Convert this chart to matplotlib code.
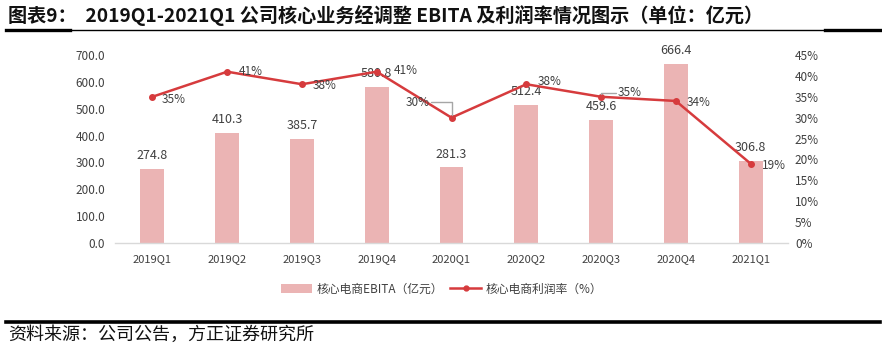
import matplotlib
matplotlib.use("Agg")
import matplotlib.pyplot as plt
from matplotlib.lines import Line2D
from matplotlib.patches import Patch

plt.rcParams['font.family'] = ['Noto Sans CJK SC', 'DejaVu Sans']

quarters = ["2019Q1", "2019Q2", "2019Q3", "2019Q4", "2020Q1", "2020Q2", "2020Q3", "2020Q4", "2021Q1"]
ebita = [274.8, 410.3, 385.7, 580.8, 281.3, 512.4, 459.6, 666.4, 306.8]
margin = [35, 41, 38, 41, 30, 38, 35, 34, 19]
left_ticks = [0, 100, 200, 300, 400, 500, 600, 700]
right_ticks = [0, 5, 10, 15, 20, 25, 30, 35, 40, 45]

W, H = 882, 351
fig = plt.figure(figsize=(W / 100, H / 100), dpi=100)

bar_color = "#EBB4B4"
line_color = "#D63B3D"
text_color = "#404040"

ax = fig.add_axes([115 / W, 1 - 243 / H, (788 - 115) / W, (243 - 55) / H])
x = list(range(len(quarters)))
ax.bar(x, ebita, width=0.32, color=bar_color, zorder=2)
ax.set_xlim(-0.5, len(quarters) - 0.5)
ax.set_ylim(0, 700)
ax.set_yticks(left_ticks)
ax.set_yticklabels([f"{v:.1f}" for v in left_ticks], fontsize=8.5, color=text_color)
ax.set_xticks(x)
ax.set_xticklabels(quarters, fontsize=8, color=text_color)
ax.tick_params(axis="both", length=0)
ax.tick_params(axis="x", pad=8)
ax.tick_params(axis="y", pad=7)
for s in ["top", "right", "left"]:
    ax.spines[s].set_visible(False)
ax.spines["bottom"].set_color("#D9D9D9")
ax.spines["bottom"].set_linewidth(1.0)

for xi, v in zip(x, ebita):
    ax.annotate(f"{v:.1f}", (xi, v), xytext=(0, 5), textcoords="offset points",
                ha="center", va="bottom", fontsize=9, color=text_color)

ax2 = ax.twinx()
ax2.plot(x, margin, color=line_color, lw=1.8, marker="o", ms=4, zorder=3)
ax2.set_ylim(0, 45)
ax2.set_yticks(right_ticks)
ax2.set_yticklabels([f"{v}%" for v in right_ticks], fontsize=8.5, color=text_color)
ax2.tick_params(axis="y", length=0, pad=5)
for s in ["top", "right", "left", "bottom"]:
    ax2.spines[s].set_visible(False)

offsets = {0: (7, -2), 1: (8, 0), 2: (8, -1), 3: (12, 1), 5: (8, 2), 7: (8, -1), 8: (8, -1)}
for i, m in enumerate(margin):
    if i in offsets:
        dx, dy = offsets[i]
        ax2.annotate(f"{m}%", (i, m), xytext=(dx, dy), textcoords="offset points",
                     ha="left", va="center", fontsize=8.5, color=text_color)

# 2020Q1 label with leader line
ax2.annotate(f"{margin[4]}%", (4, margin[4]), xytext=(-16, 11), textcoords="offset points",
             ha="right", va="center", fontsize=8.5, color=text_color)
ax2.annotate("", (4, margin[4]), xytext=(-15, 11), textcoords="offset points",
             arrowprops=dict(arrowstyle="-", color="#A6A6A6", lw=1,
                             connectionstyle="angle,angleA=0,angleB=90,rad=0", shrinkA=0, shrinkB=2))
# 2020Q3 label with leader line
ax2.annotate(f"{margin[6]}%", (6, margin[6]), xytext=(12, 3), textcoords="offset points",
             ha="left", va="center", fontsize=8.5, color=text_color)
ax2.annotate("", (6, margin[6]), xytext=(11, 3), textcoords="offset points",
             arrowprops=dict(arrowstyle="-", color="#A6A6A6", lw=1,
                             connectionstyle="angle,angleA=0,angleB=90,rad=0", shrinkA=0, shrinkB=2))

# legend
handles = [Patch(facecolor=bar_color, edgecolor="none"),
           Line2D([0], [0], color=line_color, lw=1.8, marker="o", ms=3.5)]
labels = ["核心电商EBITA（亿元）", "核心电商利润率（%）"]
fig.legend(handles, labels, loc="center", bbox_to_anchor=(442 / W, 1 - 289 / H), ncol=2,
           frameon=False, fontsize=8.5, handlelength=2.6, handletextpad=0.4, columnspacing=0.6,
           labelcolor=text_color)

# title
fig.text(8 / W, 1 - 15 / H, "图表9：  2019Q1-2021Q1 公司核心业务经调整 EBITA 及利润率情况图示（单位：亿元）",
         fontsize=13.8, fontweight="bold", ha="left", va="center", color="#111111")

# rules
fig.add_artist(Line2D([6 / W, 880 / W], [1 - 30 / H, 1 - 30 / H], color="black", lw=1.0))
fig.add_artist(Line2D([6 / W, 70 / W], [1 - 30 / H, 1 - 30 / H], color="black", lw=2.4))
fig.add_artist(Line2D([825 / W, 880 / W], [1 - 30 / H, 1 - 30 / H], color="black", lw=2.4))
fig.add_artist(Line2D([6 / W, 880 / W], [1 - 322 / H, 1 - 322 / H], color="black", lw=2.6))

fig.text(8 / W, 1 - 335 / H, "资料来源：公司公告，方正证券研究所", fontsize=13, style="italic",
         ha="left", va="center", color="#111111")

fig.savefig("out.png", dpi=100)
